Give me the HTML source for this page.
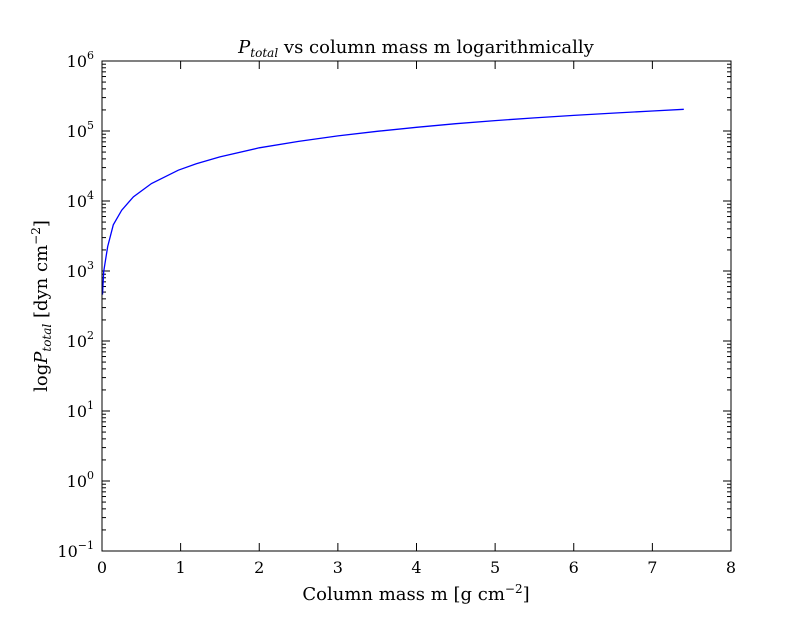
<!DOCTYPE html>
<html><head><meta charset="utf-8"><style>
body{margin:0;background:#fff;}
svg text{font-family:"DejaVu Serif","Liberation Serif",serif;fill:#000;}
</style></head><body>
<svg id="chart" width="812" height="612">
<rect width="812" height="612" fill="#fff"/>
<g id="ticks"></g>
<path id="line" fill="none" stroke="#0000ff" stroke-width="1.3"/>
<rect x="102" y="61" width="629" height="490" fill="none" stroke="#000" stroke-width="1"/>
<text x="416" y="53" font-size="18" text-anchor="middle"><tspan font-style="italic">P</tspan><tspan font-size="12" font-style="italic" dy="4">total</tspan><tspan dy="-4"> vs column mass m logarithmically</tspan></text>
<text x="416" y="600" font-size="18" text-anchor="middle">Column mass m [g cm<tspan font-size="12" dy="-7">−2</tspan><tspan dy="7">]</tspan></text>
<text transform="translate(47,306) rotate(-90)" font-size="18" text-anchor="middle">log<tspan font-style="italic">P</tspan><tspan font-size="12" font-style="italic" dy="4">total</tspan><tspan dy="-4"> [dyn cm</tspan><tspan font-size="12" dy="-7">−2</tspan><tspan dy="7">]</tspan></text>
</svg>
<script>
const xTicks=[0,1,2,3,4,5,6,7,8];
const yExps=[-1,0,1,2,3,4,5,6];
const massVals=[0.006,0.021,0.038,0.072,0.144,0.25,0.40,0.63,0.97,1.2,1.5,2,2.5,3,3.5,4,4.5,5,5.5,6,6.5,7,7.4];
const pressureVals=[460,980,1290,2240,4570,7400,11500,17800,27500,34000,42600,57500,71000,85000,99000,113000,127000,141000,154000,167000,180000,193000,204000];
const L=102,R=731,T=61,B=551;
const sx=v=>L+(v-0)/(8-0)*(R-L);
const sy=p=>B-(Math.log10(p)-(-1))/7*(B-T);
const ns="http://www.w3.org/2000/svg";
const g=document.getElementById('ticks');
function ln(x1,y1,x2,y2){const l=document.createElementNS(ns,'line');l.setAttribute('x1',x1);l.setAttribute('y1',y1);l.setAttribute('x2',x2);l.setAttribute('y2',y2);l.setAttribute('stroke','#000');l.setAttribute('stroke-width','1');


g.appendChild(l);}
xTicks.forEach(v=>{const x=sx(v);ln(x,B,x,B-8);ln(x,T,x,T+8);
const t=document.createElementNS(ns,'text');t.setAttribute('x',x);t.setAttribute('y',B+22);t.setAttribute('font-size','16');t.setAttribute('text-anchor','middle');t.textContent=v;


g.appendChild(t);});
yExps.forEach(e=>{const y=sy(Math.pow(10,e));ln(L,y,L+8,y);ln(R,y,R-8,y);
if(e<6){for(let k=2;k<10;k++){const yy=sy(k*Math.pow(10,e));ln(L,yy,L+4,yy);ln(R,yy,R-4,yy);}}
const t=document.createElementNS(ns,'text');t.setAttribute('x',L-8);t.setAttribute('y',y+6);t.setAttribute('font-size','16');t.setAttribute('text-anchor','end');
t.innerHTML='10<tspan font-size="11" dy="-8">'+(e<0?'−'+(-e):e)+'</tspan>';


g.appendChild(t);});
document.getElementById('line').setAttribute('d',massVals.map((m,i)=>(i?'L':'M')+sx(m).toFixed(1)+','+sy(pressureVals[i]).toFixed(1)).join(' '));
</script>
</body></html>
